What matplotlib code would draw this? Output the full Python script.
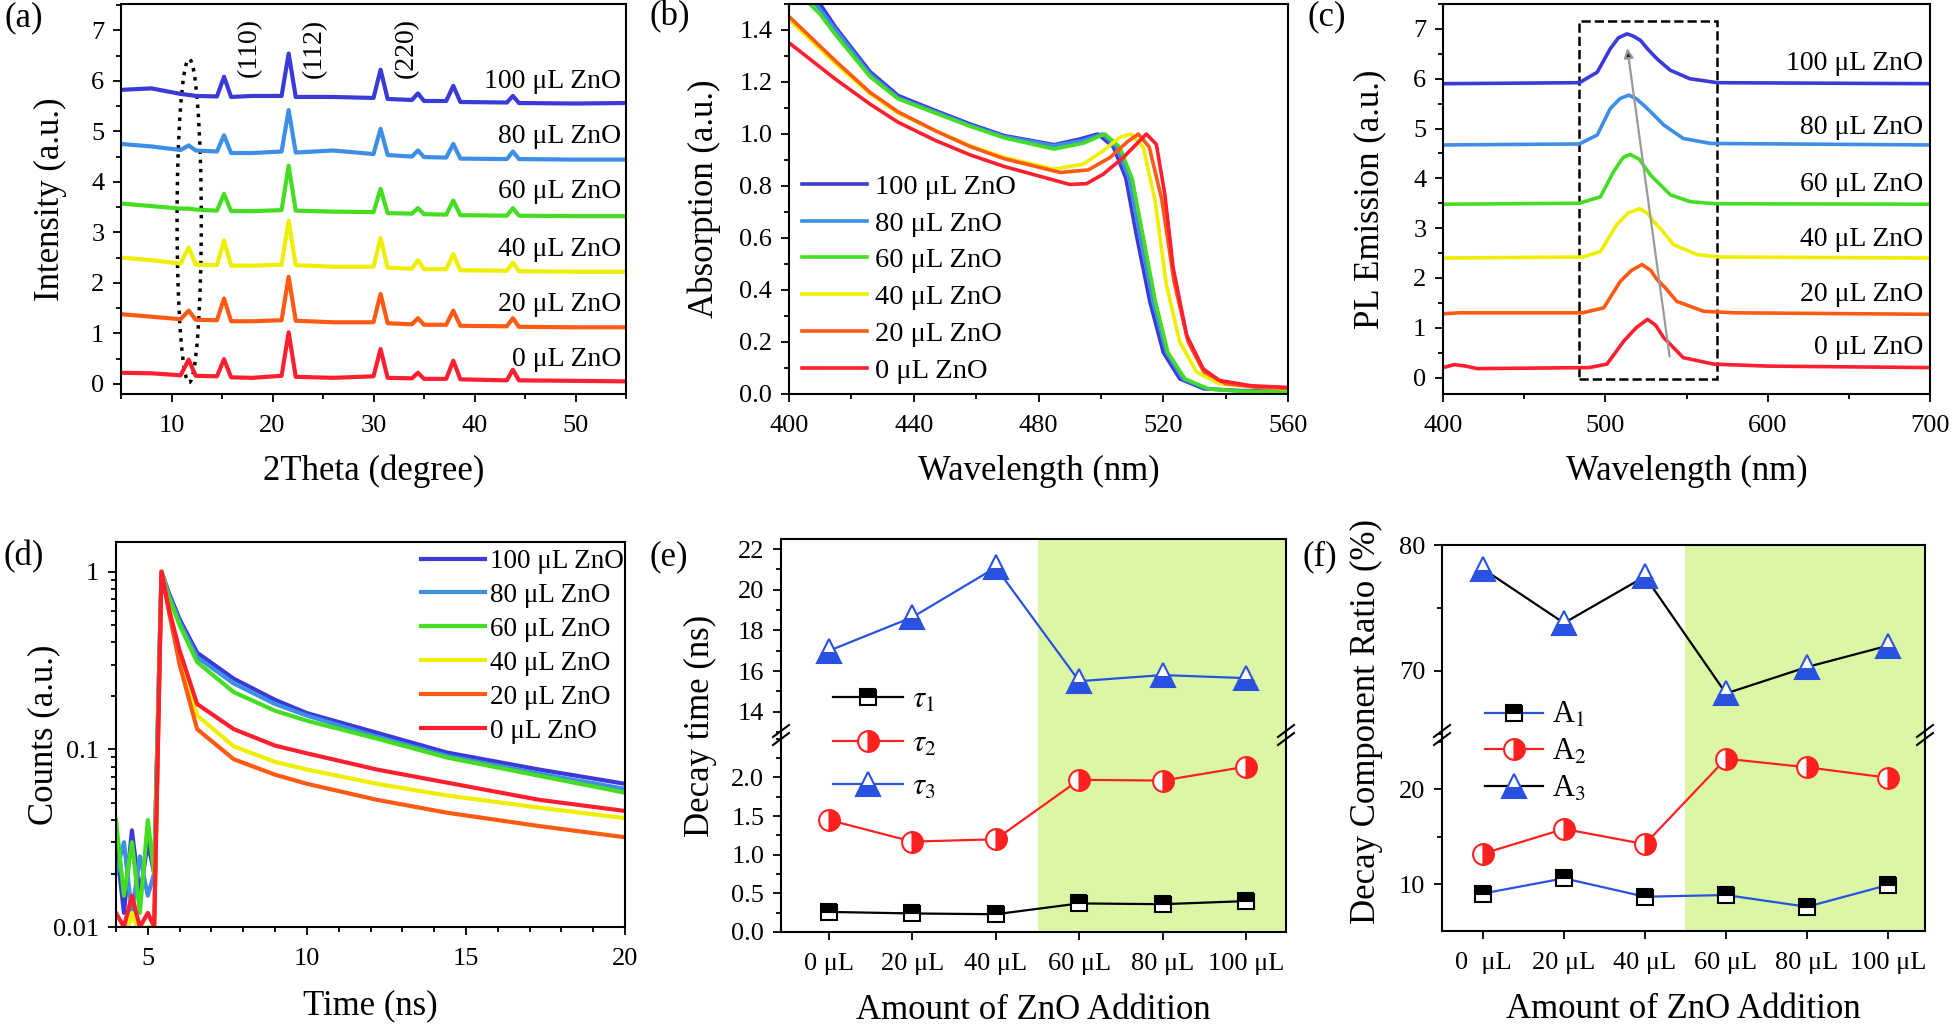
import matplotlib
matplotlib.use("Agg")
import matplotlib.pyplot as plt
from matplotlib.patches import Ellipse, Rectangle
from matplotlib.ticker import MultipleLocator, NullFormatter, FixedLocator, FormatStrFormatter
from matplotlib.lines import Line2D

plt.rcParams['font.family'] = ['Liberation Serif', 'DejaVu Serif']
plt.rcParams['mathtext.fontset'] = 'stix'

# ---------------- data ----------------
samples = ['100 μL ZnO', '80 μL ZnO', '60 μL ZnO', '40 μL ZnO', '20 μL ZnO', '0 μL ZnO']
colors = ['#3a3ad8', '#3d8ee6', '#44dd22', '#eeee00', '#ff5a14', '#ff1f2f']

# (a) XRD, shared 2theta grid, one list per sample (same order as samples)
xrd_2theta = [5, 8, 10.9, 11.7, 12.4, 14.5, 15.2, 15.9, 18, 20.9, 21.6, 22.3, 26,
              30.0, 30.7, 31.4, 33.8, 34.4, 35.0, 37.2, 37.9, 38.6, 43.2, 43.8, 44.4, 50, 55]
xrd_100 = [5.82, 5.85, 5.74, 5.72, 5.70, 5.69, 6.08, 5.68, 5.70, 5.70, 6.54, 5.68, 5.68,
           5.66, 6.22, 5.64, 5.62, 5.75, 5.60, 5.60, 5.90, 5.58, 5.57, 5.70, 5.56, 5.55, 5.56]
xrd_80 = [4.75, 4.70, 4.63, 4.72, 4.62, 4.60, 4.92, 4.57, 4.57, 4.60, 5.42, 4.58, 4.62,
          4.55, 5.05, 4.53, 4.50, 4.62, 4.49, 4.48, 4.75, 4.46, 4.45, 4.60, 4.45, 4.44, 4.44]
xrd_60 = [3.57, 3.52, 3.47, 3.47, 3.45, 3.43, 3.76, 3.42, 3.42, 3.44, 4.32, 3.43, 3.41,
          3.40, 3.86, 3.38, 3.37, 3.48, 3.36, 3.35, 3.63, 3.34, 3.33, 3.48, 3.33, 3.32, 3.32]
xrd_40 = [2.50, 2.45, 2.38, 2.70, 2.36, 2.35, 2.84, 2.34, 2.34, 2.36, 3.23, 2.35, 2.32,
          2.32, 2.89, 2.30, 2.28, 2.45, 2.27, 2.27, 2.57, 2.25, 2.24, 2.40, 2.23, 2.22, 2.22]
xrd_20 = [1.38, 1.33, 1.28, 1.45, 1.27, 1.26, 1.69, 1.24, 1.24, 1.26, 2.12, 1.25, 1.22,
          1.22, 1.78, 1.20, 1.18, 1.30, 1.17, 1.17, 1.45, 1.15, 1.14, 1.30, 1.13, 1.12, 1.12]
xrd_0 = [0.22, 0.21, 0.17, 0.48, 0.16, 0.15, 0.49, 0.13, 0.12, 0.16, 1.02, 0.14, 0.12,
         0.15, 0.69, 0.12, 0.11, 0.22, 0.10, 0.10, 0.46, 0.09, 0.07, 0.28, 0.07, 0.06, 0.05]
xrd_all = [xrd_100, xrd_80, xrd_60, xrd_40, xrd_20, xrd_0]
xrd_label_y = [5.98, 4.9, 3.8, 2.67, 1.58, 0.49]
planes = ['(110)', '(112)', '(220)']
plane_pos = [17.7, 24.1, 33.3]

# (b) absorption
abs_nm = [
    [400, 410, 415, 426, 435, 447, 458, 469, 485, 493, 499, 504, 508, 511.4, 515.7, 520, 525.3, 533, 545, 560],
    [400, 410, 415, 426, 435, 447, 458, 469, 485, 494, 500.5, 505, 509, 512.5, 516.7, 521, 526.3, 534, 545, 560],
    [400, 410, 415, 426, 435, 447, 458, 469, 485, 494.5, 501.3, 506, 510, 513.5, 517.5, 521.5, 527, 534.5, 545, 560],
    [400, 415, 426, 435, 447, 458, 469, 485, 494.3, 500.7, 506, 509.8, 513.6, 517.4, 521, 525.3, 530.7, 538, 548, 560],
    [400, 415, 426, 435, 447, 458, 469, 487, 496, 503, 508.5, 512, 515.5, 519.5, 523.5, 528, 533, 540, 550, 560],
    [400, 415, 426, 435, 447, 458, 469, 490, 495.4, 500.7, 507.2, 511.4, 514.6, 517.8, 520.5, 523.2, 527.5, 532.8, 538, 548, 560],
]
abs_val = [
    [1.62, 1.50, 1.41, 1.24, 1.148, 1.09, 1.039, 0.994, 0.959, 0.98, 1.0, 0.95, 0.83, 0.61, 0.355, 0.16, 0.058, 0.02, 0.013, 0.012],
    [1.60, 1.48, 1.40, 1.23, 1.14, 1.085, 1.034, 0.99, 0.955, 0.975, 1.0, 0.95, 0.83, 0.61, 0.355, 0.16, 0.058, 0.02, 0.012, 0.010],
    [1.58, 1.46, 1.38, 1.22, 1.135, 1.08, 1.03, 0.985, 0.942, 0.965, 1.0, 0.95, 0.83, 0.61, 0.355, 0.16, 0.058, 0.02, 0.010, 0.008],
    [1.44, 1.27, 1.155, 1.08, 1.013, 0.955, 0.91, 0.865, 0.884, 0.935, 0.987, 1.0, 0.948, 0.742, 0.42, 0.20, 0.084, 0.04, 0.028, 0.020],
    [1.452, 1.28, 1.16, 1.085, 1.012, 0.952, 0.905, 0.852, 0.862, 0.91, 0.97, 1.0, 0.95, 0.75, 0.43, 0.20, 0.085, 0.04, 0.026, 0.022],
    [1.351, 1.21, 1.115, 1.045, 0.975, 0.92, 0.875, 0.806, 0.809, 0.845, 0.91, 0.961, 1.0, 0.96, 0.768, 0.484, 0.226, 0.097, 0.052, 0.032, 0.025],
]

# (c) PL emission
pl_nm = [
    [400, 484, 495, 503, 508, 513.3, 517, 521.6, 526, 531.8, 540, 552, 569, 700],
    [400, 484, 495, 503, 509, 514.4, 519, 523.6, 529, 536, 548, 565, 700],
    [400, 484, 497, 505, 511, 515.4, 521, 527.7, 533, 540, 552.4, 568, 700],
    [400, 486, 497, 507, 514, 521, 526, 529.8, 535, 542, 556.5, 570, 700],
    [400, 410, 486, 499, 509.2, 516, 522.6, 528, 531.8, 537, 544, 560.6, 580, 700],
    [400, 407, 414, 421, 490, 501, 511.3, 519, 526, 531, 536, 548, 566.7, 600, 700],
]
pl_val = [
    [5.90, 5.92, 6.13, 6.60, 6.82, 6.90, 6.86, 6.77, 6.60, 6.40, 6.17, 6.00, 5.92, 5.90],
    [4.67, 4.69, 4.87, 5.40, 5.60, 5.67, 5.60, 5.47, 5.30, 5.07, 4.80, 4.70, 4.67],
    [3.48, 3.50, 3.63, 4.13, 4.42, 4.48, 4.38, 4.07, 3.90, 3.67, 3.53, 3.49, 3.48],
    [2.40, 2.42, 2.53, 3.07, 3.30, 3.39, 3.30, 3.13, 2.95, 2.67, 2.47, 2.42, 2.40],
    [1.28, 1.30, 1.30, 1.40, 1.93, 2.15, 2.27, 2.15, 1.97, 1.80, 1.53, 1.33, 1.30, 1.27],
    [0.20, 0.26, 0.23, 0.18, 0.20, 0.27, 0.73, 1.00, 1.17, 1.05, 0.80, 0.40, 0.27, 0.23, 0.20],
]
pl_label_y = [6.3, 5.03, 3.87, 2.77, 1.67, 0.6]

# (d) TRPL decay
t_ns = [4.0, 4.25, 4.5, 4.75, 5.0, 5.2, 5.43, 5.66, 6.0, 6.55, 7.7, 9.0, 10.0, 12.2, 14.4, 17.3, 20.0]
decay_100 = [0.03, 0.012, 0.035, 0.015, 0.03, 0.02, 1.0, 0.76, 0.54, 0.35, 0.25, 0.19, 0.16, 0.124, 0.096, 0.077, 0.064]
decay_80 = [0.02, 0.03, 0.012, 0.025, 0.015, 0.02, 1.0, 0.74, 0.52, 0.33, 0.235, 0.18, 0.155, 0.118, 0.092, 0.073, 0.060]
decay_60 = [0.04, 0.015, 0.03, 0.012, 0.04, 0.02, 1.0, 0.72, 0.50, 0.31, 0.21, 0.165, 0.145, 0.115, 0.090, 0.071, 0.057]
decay_40 = [0.010, 0.008, 0.012, 0.009, 0.010, 0.010, 1.0, 0.62, 0.34, 0.155, 0.104, 0.085, 0.077, 0.064, 0.055, 0.047, 0.041]
decay_20 = [0.008, 0.009, 0.008, 0.010, 0.009, 0.010, 1.0, 0.60, 0.30, 0.13, 0.088, 0.072, 0.064, 0.052, 0.044, 0.037, 0.032]
decay_0 = [0.012, 0.010, 0.015, 0.010, 0.012, 0.010, 1.0, 0.62, 0.36, 0.18, 0.13, 0.105, 0.095, 0.077, 0.065, 0.052, 0.045]
decay_all = [decay_100, decay_80, decay_60, decay_40, decay_20, decay_0]

# (e), (f) fitted decay parameters
zno_ticks = ['0 μL', '20 μL', '40 μL', '60 μL', '80 μL', '100 μL']
tau1 = [0.26, 0.24, 0.23, 0.37, 0.36, 0.40]
tau2 = [1.45, 1.17, 1.20, 1.97, 1.96, 2.14]
tau3 = [17.0, 18.65, 21.1, 15.5, 15.8, 15.65]
A1 = [9.0, 10.6, 8.66, 8.84, 7.6, 9.9]
A2 = [13.2, 15.8, 14.2, 23.2, 22.3, 21.2]
A3 = [78.1, 73.8, 77.5, 68.2, 70.3, 72.0]

# ---------------- figure ----------------
W, H = 1954, 1024
fig = plt.figure(figsize=(W / 100, H / 100), dpi=100)


def rect(l, r, t, b):
    return [l / W, 1 - b / H, (r - l) / W, (b - t) / H]


def style(ax):
    for s in ax.spines.values():
        s.set_linewidth(1.5)
    ax.tick_params(which='both', direction='out', width=1.3, labelsize=19, top=False, right=False)
    ax.tick_params(which='major', length=6)
    ax.tick_params(which='minor', length=3.5)
    ax.tick_params(axis='x', pad=9)
    ax.tick_params(axis='y', pad=6)


def panel_label(txt, x, y):
    fig.text(x / W, 1 - y / H, txt, fontsize=25, ha='center', va='center')


LBL = 25
green = '#dbf7a6'

# (a)
ax = fig.add_axes(rect(121, 626, 4, 394))
style(ax)
for ys, c in zip(xrd_all, colors):
    ax.plot(xrd_2theta, ys, color=c, lw=3)
ax.set_xlim(5, 55)
ax.set_ylim(-0.2, 7.52)
ax.xaxis.set_major_locator(FixedLocator([10, 20, 30, 40, 50]))
ax.xaxis.set_minor_locator(MultipleLocator(5))
ax.yaxis.set_major_locator(MultipleLocator(1))
ax.yaxis.set_minor_locator(MultipleLocator(0.5))
ax.set_xlabel('2Theta (degree)', fontsize=LBL, labelpad=13)
ax.set_ylabel('Intensity (a.u.)', fontsize=LBL, labelpad=17)
for p, xp in zip(planes, plane_pos):
    ax.text(xp, 6.65, p, rotation=90, fontsize=20, ha='center', va='center')
for s, ly in zip(samples, xrd_label_y):
    ax.text(54.5, ly, s, fontsize=20, ha='right', va='center')
ax.add_patch(Ellipse((11.75, 3.23), 2.4, 6.4, fill=False, ls=':', lw=2.5, ec='black'))
panel_label('(a)', 24, 18)

# (b)
ax = fig.add_axes(rect(789, 1288, 4, 394))
style(ax)
hs = []
for xs, ys, c, s in zip(abs_nm, abs_val, colors, samples):
    h, = ax.plot(xs, ys, color=c, lw=2.6, label=s)
    hs.append(h)
ax.set_xlim(400, 560)
ax.set_ylim(0, 1.5)
ax.xaxis.set_major_locator(MultipleLocator(40))
ax.xaxis.set_minor_locator(MultipleLocator(20))
ax.yaxis.set_major_locator(MultipleLocator(0.2))
ax.yaxis.set_minor_locator(MultipleLocator(0.1))
ax.yaxis.set_major_formatter(FormatStrFormatter('%.1f'))
ax.set_xlabel('Wavelength (nm)', fontsize=LBL, labelpad=13)
ax.set_ylabel('Absorption (a.u.)', fontsize=LBL, labelpad=13)
fig.legend(handles=hs, loc='upper left', bbox_to_anchor=(802 / W, 1 - 174 / H), frameon=False,
           fontsize=20.5, handlelength=2.3, handletextpad=0.25, labelspacing=0.38,
           borderpad=0, borderaxespad=0)
panel_label('(b)', 670, 17)

# (c)
ax = fig.add_axes(rect(1443, 1930, 4, 394))
style(ax)
for xs, ys, c in zip(pl_nm, pl_val, colors):
    ax.plot(xs, ys, color=c, lw=2.6)
ax.set_xlim(400, 700)
ax.set_ylim(-0.33, 7.5)
ax.xaxis.set_major_locator(MultipleLocator(100))
ax.xaxis.set_minor_locator(MultipleLocator(50))
ax.yaxis.set_major_locator(MultipleLocator(1))
ax.yaxis.set_minor_locator(MultipleLocator(0.5))
ax.set_xlabel('Wavelength (nm)', fontsize=LBL, labelpad=13)
ax.set_ylabel('PL Emission (a.u.)', fontsize=LBL, labelpad=19)
for s, ly in zip(samples, pl_label_y):
    ax.text(695.7, ly, s, fontsize=20, ha='right', va='center')
ax.add_patch(Rectangle((484, -0.02), 84.8, 7.17, fill=False, ls='--', lw=1.8, ec='black'))
ax.annotate('', xy=(513.3, 6.67), xytext=(539.8, 0.37),
            arrowprops=dict(arrowstyle='-|>', ec='#9a9a9a', fc='#222222', lw=1.6, mutation_scale=14))
panel_label('(c)', 1327, 17)

# (d)
ax = fig.add_axes(rect(116, 625, 542, 927))
style(ax)
hs = []
for ys, c, s in zip(decay_all, colors, samples):
    h, = ax.plot(t_ns, ys, color=c, lw=3, label=s)
    hs.append(h)
ax.set_yscale('log')
ax.set_xlim(4, 20)
ax.set_ylim(0.01, 1.47)
ax.set_yticks([0.01, 0.1, 1])
ax.set_yticklabels(['0.01', '0.1', '1'])
ax.yaxis.set_minor_formatter(NullFormatter())
ax.xaxis.set_major_locator(MultipleLocator(5))
ax.xaxis.set_minor_locator(MultipleLocator(1))
ax.set_xlabel('Time (ns)', fontsize=LBL, labelpad=14)
ax.set_ylabel('Counts (a.u.)', fontsize=LBL, labelpad=-5)
fig.legend(handles=hs, loc='upper left', bbox_to_anchor=(421 / W, 1 - 549 / H), frameon=False,
           fontsize=19.5, handlelength=2.35, handletextpad=0.2, labelspacing=0.33,
           borderpad=0, borderaxespad=0)
panel_label('(d)', 24, 557)


# (e), (f) broken axes
def broken(l, r, t, brk, b, xlim, up_lim, lo_lim):
    up = fig.add_axes(rect(l, r, t, brk))
    lo = fig.add_axes(rect(l, r, brk, b))
    for a in (up, lo):
        style(a)
        a.set_xlim(*xlim)
        a.axvspan(2.5, 6, color=green, zorder=0, lw=0)
        a.set_xticks(range(6))
    up.spines['bottom'].set_visible(False)
    lo.spines['top'].set_visible(False)
    up.tick_params(which='both', bottom=False, labelbottom=False)
    up.set_ylim(*up_lim)
    lo.set_ylim(*lo_lim)
    for xp in (l, r):
        for dy in (-4, 4):
            y0 = H - brk + dy
            fig.add_artist(Line2D([(xp - 8) / W, (xp + 8) / W], [(y0 - 6) / H, (y0 + 6) / H],
                                  color='black', lw=1.5, transform=fig.transFigure))
    return up, lo


def mk(marker, ms, fill, fillstyle):
    return dict(marker=marker, ms=ms, mfc=fill, mec=fill, mfcalt='white', fillstyle=fillstyle, mew=1.5)


sq = mk('s', 12, 'black', 'top')
ci = mk('o', 15, '#ff2020', 'right')
tr = mk('^', 17, '#2a52e0', 'bottom')
blue_line = '#2a52e0'
red_line = '#ff2020'
x_idx = list(range(6))

up, lo = broken(781, 1286, 539, 735, 932, (-0.576, 5.48), (12.85, 22.5), (0, 2.55))
h3, = up.plot(x_idx, tau3, color=blue_line, lw=1.6, **tr)
h1, = lo.plot(x_idx, tau1, color='black', lw=1.6, **sq)
h2, = lo.plot(x_idx, tau2, color=red_line, lw=1.6, **ci)
up.yaxis.set_major_locator(FixedLocator([14, 16, 18, 20, 22]))
up.yaxis.set_minor_locator(MultipleLocator(1))
lo.yaxis.set_major_locator(FixedLocator([0, 0.5, 1.0, 1.5, 2.0]))
lo.yaxis.set_minor_locator(MultipleLocator(0.25))
lo.yaxis.set_major_formatter(FormatStrFormatter('%.1f'))
lo.set_xticklabels(zno_ticks)
lo.set_xlabel('Amount of ZnO Addition', fontsize=LBL, labelpad=14)
fig.text(700 / W, 1 - 726 / H, 'Decay time (ns)', rotation=90, fontsize=LBL, ha='center', va='center')
fig.legend(handles=[h1, h2, h3], labels=[r'$\tau_1$', r'$\tau_2$', r'$\tau_3$'], loc='upper left',
           bbox_to_anchor=(833 / W, 1 - 686 / H), frameon=False, fontsize=22,
           handlelength=2.3, handletextpad=0.3, labelspacing=0.47, borderpad=0, borderaxespad=0)
panel_label('(e)', 669, 557)

up, lo = broken(1442, 1925, 545, 735, 931, (-0.506, 5.457), (64.9, 80), (5.05, 25.7))
g3, = up.plot(x_idx, A3, color='black', lw=1.6, **tr)
g1, = lo.plot(x_idx, A1, color=blue_line, lw=1.6, **sq)
g2, = lo.plot(x_idx, A2, color=red_line, lw=1.6, **ci)
up.yaxis.set_major_locator(FixedLocator([70, 80]))
up.yaxis.set_minor_locator(MultipleLocator(5))
lo.yaxis.set_major_locator(FixedLocator([10, 20]))
lo.yaxis.set_minor_locator(MultipleLocator(5))
lo.set_xticklabels(['0  μL'] + zno_ticks[1:])
lo.set_xlabel('Amount of ZnO Addition', fontsize=LBL, labelpad=14)
fig.text(1366 / W, 1 - 722 / H, 'Decay Component Ratio (%)', rotation=90, fontsize=LBL, ha='center', va='center')
fig.legend(handles=[g1, g2, g3], labels=[r'A$_1$', r'A$_2$', r'A$_3$'], loc='upper left',
           bbox_to_anchor=(1485 / W, 1 - 701 / H), frameon=False, fontsize=22,
           handlelength=1.9, handletextpad=0.3, labelspacing=0.25, borderpad=0, borderaxespad=0)
panel_label('(f)', 1320, 557)

fig.savefig('out.png', dpi=100)
